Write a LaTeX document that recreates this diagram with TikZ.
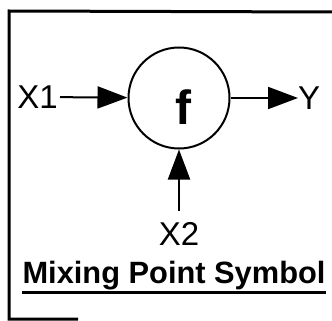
\documentclass[tikz,border=0pt]{standalone}
\usepackage{fontspec}
\setmainfont{Liberation Sans}
\usepackage{tikz}
\usetikzlibrary{shapes.geometric, arrows.meta}
\tikzstyle{mixer} = [circle, draw=black, line width=2pt, minimum size=101pt,
           inner sep=0pt]
\tikzstyle{signal} = [inner sep=2pt, font=\fontsize{33}{33}\selectfont]
\tikzstyle{arrow} = [line width=2pt,-{Triangle[length=30pt,width=22pt]}]

\begin{document}
\begin{tikzpicture}[x=1pt,y=-1pt]
\useasboundingbox (0,0) rectangle (332,321);
\draw [line width=3pt] (332,12) -- (9,11) -- (9,319) -- (78,319);
\node (mixer) [mixer] at (179,98) {};
\node (f) [anchor=base, inner sep=0pt, font=\fontsize{48}{48}\selectfont\bfseries]
   at (183,124) {f};
\node (x1) [signal, anchor=east] at (60,97) {X1};
\node (y) [signal, anchor=west, inner sep=0pt] at (298,98) {Y};
\node (x2) [signal, anchor=base] at (179,245) {X2};
\node (title) [anchor=base, inner sep=0pt, font=\fontsize{30.8}{30.8}\selectfont\bfseries]
   at (174,283) {Mixing Point Symbol};
\draw [line width=3pt] ([yshift=-9pt]title.base west) -- ([yshift=-9pt]title.base east);
\draw [arrow] (x1) -- (mixer);
\draw [arrow] (mixer) -- (y.west);
\draw [arrow] ([yshift=9pt]x2.north) -- (mixer.south);
\end{tikzpicture}
\end{document}
